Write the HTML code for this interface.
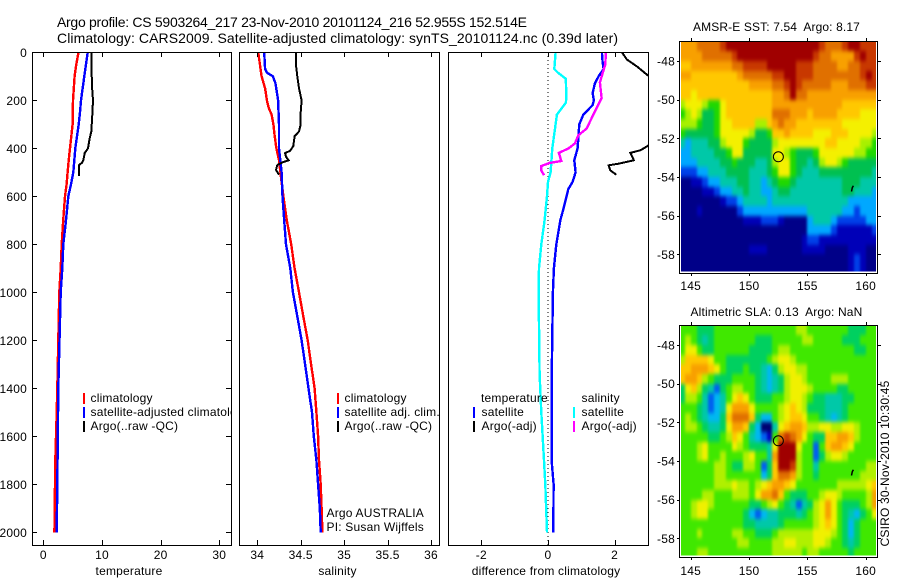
<!DOCTYPE html>
<html>
<head>
<meta charset="utf-8">
<title>Argo profile</title>
<style>
html,body{margin:0;padding:0;background:#fff;}
svg{display:block;font-family:"Liberation Sans",sans-serif;font-size:12px;fill:#000;letter-spacing:.2px;}
.title{font-size:14px;letter-spacing:0;}
.crisp{shape-rendering:crispEdges;}
</style>
</head>
<body>
<svg id="chart" xmlns="http://www.w3.org/2000/svg" width="900" height="580" viewBox="0 0 900 580">
  <defs>
    <clipPath id="clip-temp"><rect x="32" y="52" width="200" height="493"/></clipPath>
    <clipPath id="clip-sal"><rect x="239" y="52" width="201" height="493"/></clipPath>
    <clipPath id="clip-diff"><rect x="448" y="52" width="201" height="493"/></clipPath>
    <clipPath id="clip-sst"><rect x="681" y="42" width="195" height="229.5"/></clipPath>
    <clipPath id="clip-sla"><rect x="681" y="326" width="195" height="229.5"/></clipPath>
    <filter id="soften" filterUnits="userSpaceOnUse" x="640" y="0" width="260" height="580" color-interpolation-filters="sRGB"><feGaussianBlur stdDeviation="1.3 2.2"/></filter>
  </defs>
  <rect x="0" y="0" width="900" height="580" fill="#fff"/>
  <text class="title" x="57" y="27" textLength="470" lengthAdjust="spacing">Argo profile: CS 5903264_217 23-Nov-2010 20101124_216 52.955S 152.514E</text>
  <text class="title" x="57" y="43" textLength="561" lengthAdjust="spacing">Climatology: CARS2009. Satellite-adjusted climatology: synTS_20101124.nc (0.39d later)</text>

  <g id="panel-temp">
    <rect x="32.5" y="52.5" width="199" height="493" fill="#fff"/>
    <g id="lines-temp" clip-path="url(#clip-temp)"></g>
    <rect class="crisp" x="83" y="393" width="2" height="11" fill="#f00"/>
    <rect class="crisp" x="83" y="407" width="2" height="11" fill="#00f"/>
    <rect class="crisp" x="83" y="421" width="2" height="11" fill="#000"/>
    <text x="90.5" y="402">climatology</text>
    <text x="90.5" y="416">satellite-adjusted climatology</text>
    <text x="90.5" y="430">Argo(..raw -QC)</text>
    <text x="129" y="575" text-anchor="middle">temperature</text>
  </g>

  <g id="panel-sal">
    <rect x="232" y="52" width="216" height="494" fill="#fff"/>
    <g id="lines-sal" clip-path="url(#clip-sal)"></g>
    <rect class="crisp" x="337" y="393" width="2" height="11" fill="#f00"/>
    <rect class="crisp" x="337" y="407" width="2" height="11" fill="#00f"/>
    <rect class="crisp" x="337" y="421" width="2" height="11" fill="#000"/>
    <text x="344.5" y="402">climatology</text>
    <text x="344.5" y="416">satellite adj. clim.</text>
    <text x="344.5" y="430">Argo(..raw -QC)</text>
    <text x="326.5" y="517">Argo AUSTRALIA</text>
    <text x="326.5" y="531">PI: Susan Wijffels</text>
    <text x="337.5" y="575" text-anchor="middle">salinity</text>
  </g>

  <g id="panel-diff">
    <rect x="448.5" y="52.5" width="200" height="493" fill="#fff"/>
    <g id="lines-diff" clip-path="url(#clip-diff)"></g>
    <text x="481" y="402">temperature</text>
    <rect class="crisp" x="473" y="407" width="2" height="11" fill="#00f"/>
    <rect class="crisp" x="473" y="421" width="2" height="11" fill="#000"/>
    <text x="481.5" y="416">satellite</text>
    <text x="481.5" y="430">Argo(-adj)</text>
    <text x="581.5" y="402">salinity</text>
    <rect class="crisp" x="573" y="407" width="2" height="11" fill="#0ff"/>
    <rect class="crisp" x="573" y="421" width="2" height="11" fill="#f0f"/>
    <text x="581.5" y="416">satellite</text>
    <text x="581.5" y="430">Argo(-adj)</text>
    <text x="546" y="575" text-anchor="middle">difference from climatology</text>
  </g>

  <g id="map-sst">
    <text x="776.5" y="31" text-anchor="middle" textLength="167" lengthAdjust="spacing" xml:space="preserve" style="white-space:pre">AMSR-E SST: 7.54  Argo: 8.17</text>
  </g>
  <g id="map-sla">
    <text x="776.5" y="316" text-anchor="middle" textLength="172" lengthAdjust="spacing" xml:space="preserve" style="white-space:pre">Altimetric SLA: 0.13  Argo: NaN</text>
  </g>
  <text transform="translate(889,463.5) rotate(-90)" text-anchor="middle">CSIRO 30-Nov-2010 10:30:45</text>
</svg>

<script>
// ---------- profile data ----------
const tempClimDepth = [0,50,100,200,300,350,400,450,500,550,600,700,800,900,1000,1400,1500,1700,1900,2000];
const tempClimValue = [6.0,5.63,5.34,5.06,5.0,4.78,4.55,4.33,4.15,3.98,3.7,3.4,3.13,2.97,2.73,2.39,2.28,2.05,1.94,1.9];
const tempSatDepth = [0,50,100,200,250,300,400,500,550,600,700,800,900,1000,1400,1800,2000];
const tempSatValue = [7.57,7.28,6.99,6.42,6.25,6.03,5.45,5.11,4.72,4.26,3.87,3.41,3.24,2.97,2.56,2.39,2.28];
const tempArgoDepth = [0,130,200,260,330,360,400,420,450,460,470,515];
const tempArgoValue = [8.24,8.27,8.47,8.35,8.18,7.9,7.62,7.05,6.82,6.6,6.09,6.09];

const salClimDepth = [0,50,100,150,200,230,260,300,350,400,450,510,600,700,800,900,1000,1100,1200,1300,1400,1500,1600,1700,1800,1900,2000];
const salClimValue = [34.01,34.03,34.05,34.09,34.11,34.13,34.165,34.185,34.2,34.22,34.25,34.27,34.3,34.34,34.39,34.43,34.48,34.53,34.58,34.62,34.66,34.68,34.7,34.71,34.73,34.74,34.75];
const salSatDepth = [0,70,85,100,130,200,300,400,500,600,700,800,900,1000,1100,1200,1300,1400,1500,1600,1700,1800,1900,2000];
const salSatValue = [34.08,34.09,34.11,34.18,34.21,34.24,34.25,34.25,34.28,34.29,34.31,34.33,34.38,34.41,34.46,34.51,34.55,34.59,34.63,34.65,34.68,34.7,34.72,34.73];
const salArgoDepth = [0,50,100,150,200,250,300,330,350,390,410,420,435,450,460,470,490,510];
const salArgoValue = [34.445,34.445,34.46,34.48,34.51,34.5,34.5,34.48,34.43,34.415,34.38,34.32,34.33,34.36,34.28,34.23,34.215,34.25];

const diffTempSatDepth = [0,40,70,100,130,170,200,220,260,300,400,450,500,540,570,650,700,800,900,1000,1380,1600,1700,1800,2000];
const diffTempSatValue = [1.62,1.64,1.67,1.52,1.41,1.34,1.38,1.34,1.06,0.94,0.89,0.79,0.83,0.74,0.61,0.47,0.37,0.25,0.18,0.15,0.11,0.12,0.11,0.17,0.16];
const diffSalSatDepth = [0,70,85,110,190,210,260,300,400,500,540,600,700,800,900,1000,1340,1500,1700,1800,2000];
const diffSalSatValue = [0.23,0.19,0.30,0.535,0.555,0.535,0.27,0.23,0.13,0.08,0,-0.03,-0.1,-0.2,-0.27,-0.28,-0.25,-0.2,-0.12,-0.08,-0.03];
const diffSalArgoDepth = [0,50,125,190,255,318,346,380,401,419,453,461,474,492,512];
const diffSalArgoValue = [1.74,1.72,1.56,1.61,1.38,1.16,0.91,0.81,0.61,0.33,0.40,0.05,-0.2,-0.2,-0.12];
const diffTempArgoDepth = [0,30,60,100,200,380,387,408,419,450,464,471,492,510];
const diffTempArgoValue = [2.22,2.37,2.68,3.03,3.4,3.4,3.03,2.78,2.47,2.58,2.12,1.82,1.87,2.05];

// ---------- tick labels ----------
const depthTicks = [0,200,400,600,800,1000,1200,1400,1600,1800,2000];
const tempTicks = [0,10,20,30];
const salTicks = [34,34.5,35,35.5,36];
const diffTicks = [-2,0,2];
const lonTicks = [145,150,155,160];
const latTicks = [48,50,52,54,56,58];
const latTickLabels = ['-48','-50','-52','-54','-56','-58'];

// ---------- map data ----------
const argoLon = 152.514;
const argoLat = 52.955;
const trackLon = [158.95,158.85,158.78];
const trackLat = [54.45,54.55,54.75];
const levelColors = ['#000088','#0000b8','#0040e8','#00a8ff','#00c8a8','#00c050','#20d800','#a8f000','#f4f000','#ffc800','#f8a000','#e07000','#c83800','#a00000'];
const slaLevelColors = ['#000070','#0000c0','#0060f0','#00b8f0','#00c8a8','#00d060','#40e800','#b0f000','#f0f000','#ffc800','#f8a000','#e07000','#c83800','#a00000'];
const gridLonStart = 144;
const gridLatStart = 47;
const gridStep = 0.5;
const sstLevels = [
[10,10,10,11,11,11,11,12,13,13,13,13,13,13,13,13,13,13,13,13,13,13,13,13,12,11,11,11,12,13,13,12,12,12],
[10,10,10,10,11,11,11,11,11,12,13,13,13,13,13,13,13,13,13,13,13,13,13,12,11,11,10,10,10,10,12,13,12,12],
[9,9,10,10,10,10,10,10,10,11,11,12,12,12,12,13,13,13,13,13,12,12,12,11,11,11,11,10,10,11,11,12,12,12],
[10,10,9,9,9,9,9,9,9,9,10,11,11,11,11,11,12,12,13,13,12,12,12,11,11,11,11,11,11,11,11,12,13,12],
[9,9,9,9,9,9,9,9,9,9,9,9,10,10,10,10,11,11,12,13,12,11,11,11,11,11,10,10,10,11,11,11,12,12],
[9,9,8,9,9,9,9,9,9,9,9,9,9,9,9,9,10,10,11,13,11,11,10,10,10,10,10,10,10,10,10,10,10,10],
[7,8,8,8,7,6,6,8,9,9,9,9,9,9,9,9,10,10,10,10,10,10,10,10,10,10,10,10,9,9,9,9,9,9],
[6,7,8,7,5,5,6,8,9,9,9,9,9,9,9,9,11,11,11,10,10,10,9,10,10,10,10,9,9,9,9,8,8,8],
[7,7,7,6,5,5,6,8,8,9,9,9,9,7,7,9,10,11,10,10,9,9,9,9,9,9,9,9,8,8,8,8,8,8],
[6,5,5,5,5,5,6,8,8,8,8,8,7,5,5,6,9,9,10,9,9,9,9,8,8,8,9,9,9,8,8,8,8,7],
[4,3,4,4,4,5,5,7,8,8,8,6,5,5,5,5,7,8,8,8,8,8,8,8,8,9,9,8,8,8,8,7,7,6],
[3,3,4,4,4,4,5,5,6,8,8,5,5,5,5,5,8,8,7,6,5,5,5,6,8,8,8,8,8,8,7,7,6,6],
[3,3,3,4,4,4,4,5,5,6,5,5,5,4,4,5,7,8,8,6,5,5,4,5,7,8,8,7,6,5,5,5,5,5],
[2,2,2,3,3,4,4,4,5,5,5,5,4,4,4,5,6,8,8,6,5,4,4,4,5,5,5,5,5,5,5,5,5,4],
[0,0,1,1,2,3,3,4,4,4,5,5,4,4,3,4,5,6,6,5,4,4,4,4,4,4,4,4,5,5,5,4,4,4],
[0,0,0,0,1,1,2,3,3,4,4,5,4,4,3,3,4,5,5,4,4,4,4,4,4,4,4,4,5,5,4,4,4,3],
[0,0,0,0,0,0,0,1,2,2,3,4,4,4,4,3,4,4,4,4,4,4,4,4,4,4,4,4,4,3,3,3,3,3],
[0,0,0,1,0,0,0,0,0,0,2,3,3,3,3,3,3,3,3,3,3,3,4,4,4,4,4,4,3,3,2,3,3,3],
[0,0,0,0,0,0,0,0,0,0,0,1,1,1,2,2,2,1,0,0,0,0,3,4,4,4,3,2,2,2,2,2,3,3],
[0,0,0,0,0,0,0,0,0,0,0,0,0,0,0,0,0,0,0,0,0,0,3,3,3,3,2,1,1,1,1,1,1,2],
[0,0,0,0,0,0,0,0,0,0,0,0,0,0,0,0,0,0,0,0,0,1,2,2,1,1,1,1,1,1,1,1,1,1],
[0,0,0,0,0,0,0,0,0,0,0,0,1,1,1,0,0,0,0,0,0,1,1,1,1,0,0,0,0,1,1,1,0,0],
[0,0,0,0,0,0,0,0,0,0,0,0,0,0,0,0,0,0,0,0,0,0,0,0,0,0,0,0,0,1,2,1,0,0],
[0,0,0,0,0,0,0,0,0,0,0,0,0,0,0,0,0,0,0,0,0,0,0,0,0,0,0,0,0,1,2,1,0,0]
];
const slaLevels = [
[6,6,6,5,5,5,6,6,6,6,6,6,6,6,6,6,6,6,6,6,7,7,6,6,6,6,6,6,6,5,5,5,6,6],
[6,7,6,5,4,5,6,6,6,6,6,6,6,5,5,5,6,6,6,6,6,7,7,6,6,6,6,6,5,5,5,6,6,6],
[6,8,8,6,5,5,6,6,6,6,6,6,5,5,5,5,6,7,7,6,6,6,6,6,6,6,6,6,6,6,5,5,6,6],
[7,9,9,9,9,8,6,6,5,5,5,5,5,5,5,6,7,8,8,7,6,6,6,6,6,6,6,6,6,6,6,6,6,6],
[9,9,10,10,10,9,8,6,5,5,5,6,5,5,4,3,5,7,8,8,7,7,6,6,6,6,6,6,6,6,6,6,6,6],
[9,10,10,9,7,6,5,5,5,6,6,6,6,5,4,3,4,5,7,8,8,7,6,6,6,6,7,7,7,6,6,6,6,6],
[5,8,9,7,5,4,2,5,6,7,7,6,6,5,4,3,4,5,7,8,8,8,7,6,6,6,6,5,5,6,6,6,6,6],
[5,7,7,6,4,2,3,4,6,8,9,8,6,5,5,5,6,6,7,8,8,7,6,5,5,4,4,4,5,5,6,6,6,6],
[6,6,6,5,4,2,3,4,8,10,10,10,8,6,6,6,6,7,8,9,8,7,5,5,5,4,4,4,5,6,6,6,6,6],
[6,7,6,5,4,3,3,5,9,11,11,11,9,5,3,3,6,7,8,9,9,8,6,6,5,4,3,4,5,6,6,6,6,6],
[6,7,7,6,5,4,4,5,8,10,10,9,5,3,0,0,4,8,9,10,10,9,7,7,8,8,7,7,8,8,7,6,6,6],
[6,6,6,6,6,5,5,6,7,9,8,6,4,3,2,1,6,11,12,11,10,8,6,5,5,9,9,10,10,9,7,6,6,6],
[6,6,6,7,8,6,6,6,6,8,7,6,5,5,5,4,8,13,13,13,8,6,6,2,6,9,10,10,9,8,6,6,6,6],
[6,6,6,7,8,6,6,7,6,6,6,7,8,6,6,4,10,13,13,13,7,6,6,2,5,7,8,8,7,6,6,6,6,6],
[6,6,6,6,6,6,7,7,6,5,5,7,7,6,2,5,9,13,13,12,7,6,6,4,6,6,6,6,6,6,6,6,7,7],
[6,6,6,6,6,6,7,7,6,6,6,6,6,6,3,5,9,11,11,10,7,6,6,5,6,6,6,6,6,6,6,7,7,7],
[6,6,6,6,6,6,7,7,7,8,7,7,6,7,8,9,10,10,9,8,6,6,6,6,6,6,6,7,7,7,7,7,8,9],
[6,6,6,6,7,7,6,6,6,7,7,7,6,8,10,10,11,9,6,5,5,5,6,6,7,8,8,7,6,6,6,6,7,10],
[6,6,7,8,8,7,6,6,6,6,6,6,5,5,6,7,8,6,5,4,2,4,5,7,8,10,8,6,5,5,5,6,7,10],
[6,6,7,8,8,6,6,6,6,6,6,5,3,2,3,4,4,5,5,5,4,5,6,7,8,10,8,6,5,4,3,5,6,8],
[6,6,6,6,6,6,6,6,6,6,6,5,5,4,4,4,4,5,6,6,6,6,6,7,8,9,8,6,5,3,5,6,6,6],
[6,6,6,7,6,6,6,6,6,7,7,6,6,5,5,5,6,7,7,7,7,7,7,8,8,8,7,6,5,3,5,6,6,6],
[6,6,6,6,6,6,6,6,6,6,7,7,6,6,6,6,7,7,8,8,7,7,7,8,8,7,6,6,5,4,5,6,6,6],
[6,6,6,7,7,6,6,6,6,6,6,6,6,6,6,6,7,7,7,7,7,6,7,7,6,6,6,6,6,5,6,6,6,6]
];

// ---------- drawing ----------
const NS = 'http://www.w3.org/2000/svg';
const svg = document.getElementById('chart');
function make(parent, tag, attrs, text) {
  const el = document.createElementNS(NS, tag);
  for (const k in attrs) el.setAttribute(k, attrs[k]);
  if (text !== undefined) el.textContent = text;
  parent.appendChild(el);
  return el;
}
function linearScale(d0, d1, r0, r1) {
  return function (v) { return r0 + (v - d0) * (r1 - r0) / (d1 - d0); };
}
const yDepth = linearScale(0, 2000, 52.3, 532.3);
const xTemp = linearScale(0, 30, 43.3, 219.3);
const xSal = linearScale(34, 36, 257.3, 431);
const xDiff = linearScale(-2, 2, 481.3, 614.6);

function drawProfile(groupId, depths, values, xScale, color, width, name) {
  const group = document.getElementById(groupId);
  const pts = depths.map(function (d, i) { return xScale(values[i]).toFixed(1) + ',' + yDepth(d).toFixed(1); }).join(' ');
  const el = make(group, 'polyline', {points: pts, fill: 'none', stroke: color, 'stroke-width': width, class: 'crisp'});
  
  
}
drawProfile('lines-temp', tempClimDepth, tempClimValue, xTemp, '#f00', 2.4, 'temperature-climatology-line');
drawProfile('lines-temp', tempSatDepth, tempSatValue, xTemp, '#00f', 2.4, 'temperature-satellite-line');
drawProfile('lines-temp', tempArgoDepth, tempArgoValue, xTemp, '#000', 2, 'temperature-argo-line');
drawProfile('lines-sal', salClimDepth, salClimValue, xSal, '#f00', 2.4, 'salinity-climatology-line');
drawProfile('lines-sal', salSatDepth, salSatValue, xSal, '#00f', 2.4, 'salinity-satellite-line');
drawProfile('lines-sal', salArgoDepth, salArgoValue, xSal, '#000', 2, 'salinity-argo-line');

// zero reference line of the difference panel
const diffGroup = document.getElementById('lines-diff');
const zeroLine = make(diffGroup, 'line', {x1: xDiff(0), x2: xDiff(0), y1: 52, y2: 545, stroke: '#000', 'stroke-width': 1, 'stroke-dasharray': '1 3', class: 'crisp'});


drawProfile('lines-diff', diffTempSatDepth, diffTempSatValue, xDiff, '#00f', 2.4, 'difference-temperature-satellite-line');
drawProfile('lines-diff', diffSalSatDepth, diffSalSatValue, xDiff, '#0ff', 2.4, 'difference-salinity-satellite-line');
drawProfile('lines-diff', diffSalArgoDepth, diffSalArgoValue, xDiff, '#f0f', 2.4, 'difference-salinity-argo-line');
drawProfile('lines-diff', diffTempArgoDepth, diffTempArgoValue, xDiff, '#000', 2, 'difference-temperature-argo-line');

// axes of the three profile panels
function drawXAxis(groupId, left, right, ticks, xScale) {
  const group = document.getElementById(groupId);
  const frame = make(group, 'rect', {x: left + 0.5, y: 52.5, width: right - left, height: 493, fill: 'none', stroke: '#000', 'stroke-width': 1, class: 'crisp'});
  
  
  ticks.forEach(function (t) {
    const x = Math.round(xScale(t)) + 0.5;
    const top = make(group, 'line', {x1: x, x2: x, y1: 52, y2: 57, stroke: '#000', 'stroke-width': 1, class: 'crisp'});
    
    
    const bottom = make(group, 'line', {x1: x, x2: x, y1: 540, y2: 545, stroke: '#000', 'stroke-width': 1, class: 'crisp'});
    
    
    const label = make(group, 'text', {x: xScale(t), y: 559, 'text-anchor': 'middle'}, String(t));
    
    
  });
}
drawXAxis('panel-temp', 32, 231, tempTicks, xTemp);
drawXAxis('panel-sal', 239, 439, salTicks, xSal);
drawXAxis('panel-diff', 448, 648, diffTicks, xDiff);

const tempGroup = document.getElementById('panel-temp');
depthTicks.forEach(function (d) {
  const y = Math.round(yDepth(d)) + 0.5;
  const left = make(tempGroup, 'line', {x1: 32, x2: 37, y1: y, y2: y, stroke: '#000', 'stroke-width': 1, class: 'crisp'});
  
  
  const right = make(tempGroup, 'line', {x1: 226, x2: 231, y1: y, y2: y, stroke: '#000', 'stroke-width': 1, class: 'crisp'});
  
  
  const label = make(tempGroup, 'text', {x: 27, y: yDepth(d) + 4.5, 'text-anchor': 'end'}, String(d));
  
  
});

// maps: cells are softened by an SVG blur; border cells bleed past the clip so edges stay saturated
const xLon = linearScale(145, 160, 690.7, 865.7);
function drawMap(groupId, clipId, levels, colors, yLat, frameTop, frameBottom, labelY) {
  const group = document.getElementById(groupId);
  const clip = make(group, 'g', {'clip-path': 'url(#' + clipId + ')'});
  
  
  const cells = make(clip, 'g', {filter: 'url(#soften)'});
  
  
  const lastRow = levels.length - 1;
  levels.forEach(function (row, r) {
    const lastCol = row.length - 1;
    row.forEach(function (level, c) {
      const lon = gridLonStart + c * gridStep;
      const lat = gridLatStart + r * gridStep;
      const x0 = Math.round(xLon(lon)) - (c === 0 ? 14 : 0);
      const x1 = Math.round(xLon(lon + gridStep)) + (c === lastCol ? 14 : 0);
      const y0 = Math.round(yLat(lat)) - (r === 0 ? 14 : 0);
      const y1 = Math.round(yLat(lat + gridStep)) + (r === lastRow ? 14 : 0);
      const cell = make(cells, 'rect', {x: x0, y: y0, width: x1 - x0, height: y1 - y0, fill: colors[level], class: 'crisp'});
      
      
    });
  });
  const frame = make(group, 'rect', {x: 679.5, y: frameTop + 0.5, width: 198, height: frameBottom - frameTop, fill: 'none', stroke: '#000', 'stroke-width': 1, class: 'crisp'});
  
  
  lonTicks.forEach(function (t) {
    const x = Math.round(xLon(t)) + 0.5;
    const top = make(group, 'line', {x1: x, x2: x, y1: frameTop - 3, y2: frameTop, stroke: '#000', 'stroke-width': 1, class: 'crisp'});
    
    
    const bottom = make(group, 'line', {x1: x, x2: x, y1: frameBottom, y2: frameBottom + 3, stroke: '#000', 'stroke-width': 1, class: 'crisp'});
    
    
    const label = make(group, 'text', {x: xLon(t), y: labelY, 'text-anchor': 'middle'}, String(t));
    
    
  });
  latTicks.forEach(function (t, i) {
    const y = Math.round(yLat(t)) + 0.5;
    const left = make(group, 'line', {x1: 677, x2: 680, y1: y, y2: y, stroke: '#000', 'stroke-width': 1, class: 'crisp'});
    
    
    const right = make(group, 'line', {x1: 878, x2: 881, y1: y, y2: y, stroke: '#000', 'stroke-width': 1, class: 'crisp'});
    
    
    const label = make(group, 'text', {x: 675, y: yLat(t) + 4.5, 'text-anchor': 'end'}, latTickLabels[i]);
    
    
  });
  const track = make(group, 'polyline', {points: trackLon.map(function (lon, i) { return xLon(lon).toFixed(1) + ',' + yLat(trackLat[i]).toFixed(1); }).join(' '), fill: 'none', stroke: '#000', 'stroke-width': 1.5});
  
  
  const marker = make(group, 'circle', {cx: xLon(argoLon), cy: yLat(argoLat), r: 5, fill: 'none', stroke: '#000', 'stroke-width': 1});
  
  
}
drawMap('map-sst', 'clip-sst', sstLevels, levelColors, linearScale(48, 58, 61, 254.3), 41, 273, 290);
drawMap('map-sla', 'clip-sla', slaLevels, slaLevelColors, linearScale(48, 58, 345, 538.3), 325, 557, 575);
</script>
</body>
</html>
